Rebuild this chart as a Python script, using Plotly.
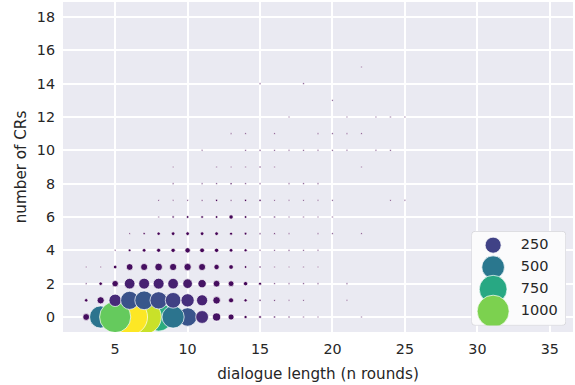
import plotly.graph_objects as go

# ---- data: (dialogue length, number of CRs, number of dialogues) ----
dlen = [
    3, 4, 10, 8, 9, 7, 6, 5, 11, 12, 13, 14, 15, 16, 17, 18, 19, 22,          # n_crs = 0
    3, 4, 5, 6, 7, 8, 9, 10, 11, 12, 13, 14, 15, 16, 17, 18, 21,              # 1
    3, 4, 5, 6, 7, 8, 9, 10, 11, 12, 13, 14, 15, 16, 17, 18, 19, 21,          # 2
    3, 4, 5, 6, 7, 8, 9, 10, 11, 12, 13, 14, 15, 16, 17, 18, 19,              # 3
    5, 6, 7, 8, 9, 10, 11, 12, 13, 14, 15, 16, 17, 18, 19,                    # 4
    6, 7, 8, 9, 10, 11, 12, 13, 14, 15, 16, 17, 19, 20, 22,                   # 5
    8, 9, 10, 11, 12, 13, 14, 15, 16, 17, 18, 19, 20,                         # 6
    8, 9, 10, 11, 12, 13, 14, 15, 16, 17, 18, 19, 20, 24, 25,                 # 7
    9, 11, 12, 13, 14, 15, 17, 18, 19,                                        # 8
    9, 12, 13, 14, 15, 16, 22,                                                # 9
    11, 14, 15, 16, 17, 18, 19, 20, 21, 23, 24,                               # 10
    13, 14, 16, 19, 20, 21, 22,                                               # 11
    17, 21, 23, 24, 25,                                                       # 12
    20,                                                                       # 13
    15, 18,                                                                   # 14
    22,                                                                       # 15
]
n_crs = (
    [0] * 18 + [1] * 17 + [2] * 18 + [3] * 17 + [4] * 15 + [5] * 15 + [6] * 13
    + [7] * 15 + [8] * 9 + [9] * 7 + [10] * 11 + [11] * 7 + [12] * 5
    + [13] * 1 + [14] * 2 + [15] * 1
)
count = [
    45, 480, 330, 780, 480, 1150, 1250, 950, 160, 65, 35, 10, 7, 4, 3, 2, 1, 1,
    12, 50, 150, 320, 340, 290, 240, 170, 120, 55, 25, 10, 4, 3, 2, 1, 1,
    1, 12, 40, 110, 115, 115, 110, 90, 68, 44, 32, 18, 9, 2, 2, 1, 1, 1,
    1, 2, 13, 44, 48, 57, 50, 52, 48, 28, 21, 7, 4, 1, 1, 2, 1,
    1, 7, 13, 16, 18, 28, 22, 18, 13, 9, 2, 2, 3, 2, 1,
    1, 5, 11, 13, 13, 13, 13, 9, 7, 3, 3, 2, 1, 1, 1,
    1, 5, 7, 7, 7, 18, 7, 2, 3, 2, 1, 1, 1,
    1, 2, 2, 3, 5, 3, 5, 5, 1, 2, 2, 1, 1, 1, 1,
    1, 2, 2, 4, 2, 2, 1, 1, 1,
    1, 2, 1, 1, 3, 1, 1,
    1, 1, 3, 1, 1, 1, 1, 1, 1, 1, 1,
    1, 1, 1, 1, 1, 1, 2,
    1, 1, 1, 1, 1,
    1,
    1, 1,
    1,
]

legend_counts = [250, 500, 750, 1000]
legend_labels = ["250", "500", "750", "1000"]
x_ticks = [5, 10, 15, 20, 25, 30, 35]
y_ticks = [0, 2, 4, 6, 8, 10, 12, 14, 16, 18]

# ---- styling ----
FONT = "DejaVu Sans"
TXT = "#262626"
SIZEREF = 2 * 1000 / 32 ** 2
CMIN, CMAX = min(count), max(count)

marker_common = dict(
    sizemode="area", sizeref=SIZEREF, sizemin=0.8,
    colorscale="Viridis", cmin=CMIN, cmax=CMAX,
    line=dict(color="white", width=0.7), opacity=1,
)

fig = go.Figure()
fig.add_trace(go.Scatter(
    x=dlen, y=n_crs, mode="markers",
    marker=dict(size=count, color=count, **marker_common),
    hoverinfo="skip", showlegend=False,
))

# ---- size/hue legend drawn on its own small axes ----
leg_x_range = [-0.78, 2.624]
leg_y_range = [3.645, -0.627]
fig.add_trace(go.Scatter(
    x=["m"] * len(legend_counts), y=legend_labels, mode="markers",
    marker=dict(size=legend_counts, color=legend_counts, **marker_common),
    xaxis="x2", yaxis="y2", showlegend=False, hoverinfo="skip",
))
fig.add_trace(go.Scatter(
    x=["t"] * len(legend_labels), y=legend_labels, mode="text",
    text=legend_labels, textposition="middle right",
    textfont=dict(family=FONT, size=14.5, color=TXT),
    xaxis="x2", yaxis="y2", showlegend=False, hoverinfo="skip",
))

x0, x1 = leg_x_range
y0, y1 = leg_y_range[1], leg_y_range[0]
rx = (x1 - x0) * 4 / 94.0
ry = (y1 - y0) * 4 / 94.0
path = (
    f"M {x0 + rx},{y0} L {x1 - rx},{y0} Q {x1},{y0} {x1},{y0 + ry} "
    f"L {x1},{y1 - ry} Q {x1},{y1} {x1 - rx},{y1} L {x0 + rx},{y1} "
    f"Q {x0},{y1} {x0},{y1 - ry} L {x0},{y0 + ry} Q {x0},{y0} {x0 + rx},{y0} Z"
)
fig.add_shape(
    type="path", path=path, xref="x2", yref="y2", layer="below",
    fillcolor="#FBFBFC", line=dict(color="#D2D2D6", width=1),
)

axis_common = dict(
    showgrid=True, gridcolor="white", gridwidth=1.6, zeroline=False,
    showline=False, ticks="", automargin=False,
    tickfont=dict(family=FONT, size=14.3, color=TXT),
)
fig.update_layout(
    width=575, height=385,
    margin=dict(l=63, r=2, t=2, b=53),
    plot_bgcolor="#EAEAF2", paper_bgcolor="white",
    font=dict(family=FONT, color=TXT),
    xaxis=dict(
        range=[1.4, 36.6], tickvals=x_ticks, ticklabelstandoff=7, **axis_common,
        title=dict(text="dialogue length (n rounds)", font=dict(family=FONT, size=15.2, color=TXT), standoff=12),
    ),
    yaxis=dict(
        range=[-0.9, 18.9], tickvals=y_ticks, ticklabelstandoff=7, **axis_common,
        title=dict(text="number of CRs", font=dict(family=FONT, size=15.2, color=TXT), standoff=6),
    ),
    xaxis2=dict(domain=[0.801, 0.986], anchor="y2", range=leg_x_range, type="category",
                categoryarray=["m", "t"], visible=False, showgrid=False, zeroline=False),
    yaxis2=dict(domain=[0.020, 0.305], anchor="x2", range=leg_y_range, type="category",
                categoryarray=legend_labels, visible=False, showgrid=False, zeroline=False),
)

fig.write_html(
    "out.html",
    config={"displayModeBar": False},
    post_script="document.body.style.margin='0';document.body.style.overflow='hidden';",
)
